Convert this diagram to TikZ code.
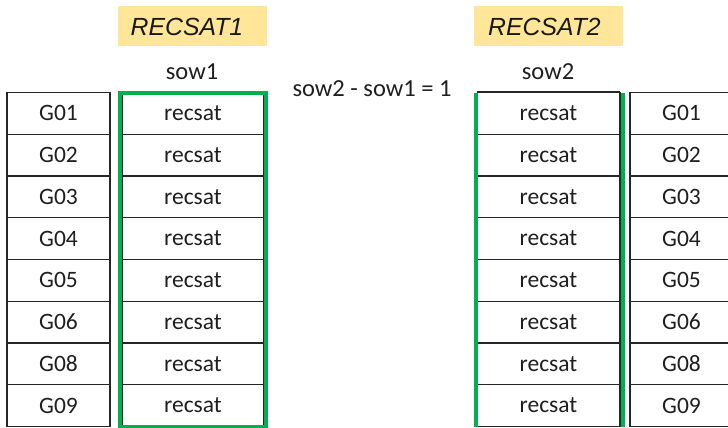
\documentclass[tikz,border=0pt]{standalone}
\usepackage{fontspec}
\setmainfont{Carlito}
\newfontfamily\headfont{Liberation Sans}
\usetikzlibrary{positioning}
\definecolor{framegreen}{HTML}{00B050}
\definecolor{tagyellow}{HTML}{FFE699}
\definecolor{cellline}{HTML}{262626}
\tikzset{
  cell/.style={draw=cellline, line width=1.2pt, inner sep=0pt, minimum height=41.75pt,
               font=\fontsize{23.5}{25}\selectfont, text=black!88},
  gcell/.style={cell, minimum width=103pt},
  rcell/.style={cell, minimum width=142pt},
  tag/.style={fill=tagyellow, inner sep=0pt, minimum width=149pt, minimum height=40pt},
  tagtext/.style={font=\headfont\itshape\fontsize{24.8}{26}\selectfont, text=black!90, inner sep=0pt},
  coltext/.style={font=\fontsize{24.5}{26}\selectfont, text=black!88, inner sep=0pt, anchor=base},
  greenframe/.style={draw=framegreen, line width=3.6pt}
}
\begin{document}
\begin{tikzpicture}[x=1pt,y=-1pt]
\useasboundingbox (0,0) rectangle (728,428);
% header tags
\node[tag] (tag1) at (192.5,26) {};
\node[tagtext] (tag1t) at (187,27) {RECSAT1};
\node[tag] (tag2) at (548.5,26) {};
\node[tagtext] (tag2t) at (544.5,27) {RECSAT2};
% column captions
\node[coltext] (sow1) at (192,79.5) {sow1};
\node[coltext] (sow2) at (548,79.5) {sow2};
\node[coltext] (diff) at (372,96.5) {sow2 - sow1 = 1};
% rows
\foreach \g [count=\i] in {G01,G02,G03,G04,G05,G06,G08,G09}{
  \pgfmathsetmacro{\yy}{92.5+41.75*(\i-0.5)}
  \node[gcell] (gl\i) at (58.5,\yy) {\g};
  \node[rcell] (rl\i) at (193,\yy) {recsat};
  \node[rcell] (rr\i) at (548.5,\yy) {recsat};
  \node[gcell] (gr\i) at (681.5,\yy) {\g};
}
% green frames around the recsat columns
\draw[greenframe] ([xshift=-1.3pt,yshift=-1pt]rl1.north west) rectangle ([xshift=1.3pt]rl8.south east);
\draw[greenframe] ([xshift=-0.8pt,yshift=-1pt]rr1.north west) -- ([xshift=-0.8pt]rr8.south west);
\draw[greenframe] ([xshift=2.8pt,yshift=-1pt]rr1.north east) -- ([xshift=2.8pt]rr8.south east);
% black outline of the right column drawn over its frame
\draw[draw=cellline, line width=1.2pt] (rr1.north west) -- (rr1.north east);
\draw[draw=cellline, line width=1.2pt] (rr1.north east) -- (rr8.south east);
\end{tikzpicture}
\end{document}
